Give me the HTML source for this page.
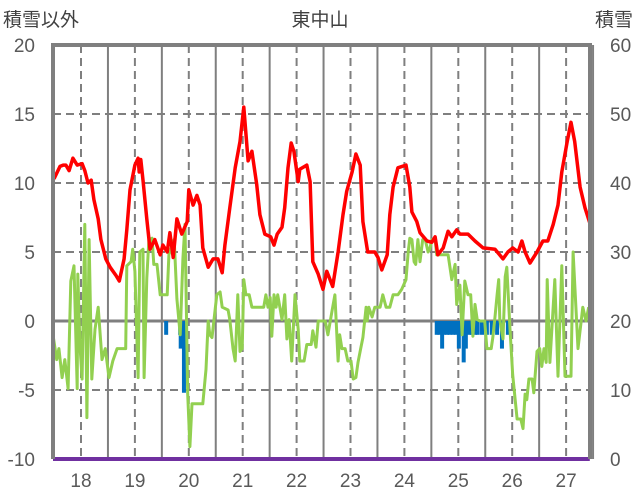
<!DOCTYPE html>
<html><head><meta charset="utf-8">
<style>
html,body{margin:0;padding:0;background:#fff;}
svg{display:block;font-family:"Liberation Sans","Noto Sans CJK JP",sans-serif;}
</style></head>
<body>
<svg id="chart" width="636" height="501" viewBox="0 0 636 501" xmlns="http://www.w3.org/2000/svg">
<text x="3" y="26" font-size="19" fill="#404040">積雪以外</text>
<text x="320" y="26" font-size="19" fill="#404040" text-anchor="middle">東中山</text>
<text x="633" y="26" font-size="19" fill="#404040" text-anchor="end">積雪</text>
<g id="grid"></g>
<g id="series"></g>
<g id="axes"></g>
</svg>
<script>
const redT=[17.50,17.61,17.67,17.72,17.78,17.85,17.93,18.02,18.07,18.13,18.19,18.24,18.32,18.37,18.46,18.54,18.65,18.71,18.80,18.85,18.91,19.00,19.06,19.08,19.11,19.15,19.22,19.28,19.37,19.47,19.52,19.60,19.65,19.71,19.78,19.87,19.97,20.00,20.08,20.15,20.21,20.26,20.36,20.45,20.54,20.62,20.67,20.76,20.86,20.95,21.02,21.10,21.17,21.26,21.32,21.41,21.52,21.58,21.64,21.73,21.78,21.84,21.90,21.95,22.03,22.06,22.19,22.25,22.30,22.40,22.49,22.56,22.67,22.77,22.86,22.93,23.03,23.10,23.18,23.23,23.32,23.45,23.51,23.58,23.68,23.73,23.79,23.88,24.03,24.10,24.14,24.23,24.29,24.42,24.51,24.57,24.62,24.72,24.81,24.88,24.97,25.03,25.18,25.31,25.46,25.68,25.83,25.92,26.01,26.11,26.18,26.24,26.33,26.46,26.57,26.66,26.76,26.85,26.92,27.02,27.09,27.16,27.26,27.35,27.44];
const redV=[10.3,11.2,11.3,11.3,10.9,11.8,11.3,11.4,10.9,10.0,10.2,8.8,7.4,5.9,4.5,3.9,3.3,2.9,4.5,6.6,9.5,11.3,11.8,10.8,11.7,10.2,7.4,5.2,5.9,4.8,5.5,5.0,6.4,4.6,7.4,6.3,7.2,9.5,8.4,9.1,8.4,5.3,3.9,4.5,4.5,3.5,5.5,8.2,11.1,13.0,15.5,11.6,12.3,9.9,7.7,6.3,6.1,5.5,6.3,6.8,8.2,11.1,12.9,12.3,10.1,11.0,11.3,10.1,4.3,3.4,2.3,3.6,2.5,5.0,7.7,9.4,10.8,12.1,11.3,7.2,5.0,5.0,4.6,3.7,4.8,7.7,9.7,11.1,11.3,9.7,7.9,7.2,6.4,5.8,5.7,6.1,4.8,5.3,6.5,6.1,6.6,6.3,6.3,5.8,5.3,5.2,4.5,5.0,5.3,5.0,5.8,5.0,4.2,5.0,5.8,5.8,7.0,8.4,10.8,13.0,14.4,13.0,9.7,8.2,7.1];
const greenT=[17.48,17.55,17.59,17.65,17.70,17.76,17.81,17.87,17.93,17.94,17.98,18.02,18.07,18.11,18.15,18.20,18.26,18.32,18.39,18.45,18.52,18.59,18.67,18.83,18.85,18.93,18.96,19.00,19.06,19.09,19.15,19.17,19.22,19.26,19.32,19.35,19.41,19.47,19.60,19.63,19.73,19.78,19.84,19.89,19.93,19.98,20.02,20.06,20.26,20.32,20.36,20.39,20.43,20.52,20.58,20.62,20.73,20.76,20.82,20.86,20.91,20.95,20.99,21.02,21.06,21.12,21.17,21.39,21.43,21.47,21.51,21.54,21.58,21.62,21.65,21.73,21.78,21.82,21.86,21.91,21.97,22.03,22.06,22.14,22.19,22.27,22.30,22.36,22.40,22.53,22.58,22.66,22.71,22.77,22.80,22.84,22.90,22.95,23.01,23.05,23.10,23.14,23.19,23.23,23.29,23.31,23.34,23.40,23.45,23.55,23.60,23.66,23.73,23.79,23.88,23.95,24.03,24.07,24.10,24.14,24.18,24.21,24.25,24.29,24.34,24.38,24.44,24.47,24.51,24.57,24.60,24.81,24.88,24.94,24.97,25.03,25.07,25.12,25.18,25.23,25.27,25.31,25.35,25.40,25.49,25.53,25.61,25.64,25.68,25.72,25.75,25.77,25.83,25.87,25.90,25.96,26.01,26.09,26.16,26.20,26.24,26.27,26.31,26.37,26.40,26.46,26.51,26.55,26.59,26.63,26.65,26.70,26.79,26.85,26.92,26.98,27.09,27.13,27.22,27.31,27.37,27.42];
const greenV=[-1.0,-2.8,-2.0,-4.1,-2.8,-4.9,2.9,4.0,-4.9,3.4,-1.7,-4.2,7.0,-7.0,5.9,-4.2,-0.6,1.0,-2.8,-2.0,-4.1,-2.9,-2.0,-2.0,4.0,4.3,5.2,3.6,-4.1,5.0,5.2,-4.1,3.1,5.9,6.0,4.1,4.1,1.9,1.9,4.8,5.9,1.6,-1.0,4.5,7.0,-5.3,-9.1,-6.0,-6.0,-3.5,0.0,-1.0,-1.2,1.9,2.1,1.0,0.8,0.1,-2.0,-2.9,1.9,-2.2,-2.0,3.0,1.9,1.9,1.0,1.0,1.9,1.0,1.7,-1.1,1.9,1.0,1.9,0.1,1.9,-1.3,0.1,-2.9,1.9,-0.6,-2.9,-2.9,-1.7,-1.7,-0.7,-1.9,0.0,0.0,-1.0,0.8,1.9,-2.9,-1.0,-2.0,-2.0,-2.9,-2.9,-4.2,-4.1,-3.0,-2.0,-1.2,1.0,0.0,1.0,0.3,1.0,1.0,1.9,1.0,1.0,1.9,1.9,2.3,3.0,5.0,6.0,5.9,4.3,4.1,5.9,4.3,5.9,6.0,5.0,5.2,5.9,5.9,4.8,4.8,3.0,4.1,1.2,2.6,-1.0,2.9,1.9,1.9,-1.1,1.2,0.1,0.0,0.0,-2.0,-2.0,-1.2,0.3,1.9,3.0,0.1,-1.3,3.2,3.9,-0.6,-3.9,-7.1,-7.1,-7.8,-5.3,-5.7,-4.2,-4.2,-5.2,-2.2,-2.0,-3.3,-2.0,-3.0,3.0,-3.0,3.0,-4.0,4.0,-4.0,-4.0,5.0,-2.0,1.0,0.0,1.0];
const blueT=[19.58,19.84,19.85,19.91,24.60,24.65,24.70,24.73,24.79,24.84,24.90,24.96,25.01,25.07,25.10,25.14,25.20,25.25,25.31,25.36,25.44,25.53,25.62,25.72,25.81,25.92];
const blueV=[-1,-1,-2,-5.2,-1,-1,-2,-1,-1,-1,-1,-1,-2,-1,-3,-2,-1,-1,-1,-1,-1,-1,-1,-1,-2,-1];
const snowT=[17.48,27.44];
const snowV=[0,0];
const xTicks=[18,19,20,21,22,23,24,25,26,27];
const leftTicks=[20,15,10,5,0,-5,-10];
const rightTicks=[60,50,40,30,20,10,0];

const L=53,R=590,T=45,B=459;
const X=t=>81+(t-18)*53.9;
const Y=v=>T+(20-v)*(B-T)/30;
const YR=v=>B-v*(B-T)/60;
const NS='http://www.w3.org/2000/svg';
function mk(tag,parent,attrs){const e=document.createElementNS(NS,tag);for(const k in attrs)e.setAttribute(k,attrs[k]);parent.appendChild(e);return e;}
const grid=document.getElementById('grid'),ser=document.getElementById('series'),axes=document.getElementById('axes');
mk('rect',grid,{x:L,y:T,width:R-L,height:B-T,fill:'#fff'});
leftTicks.forEach(v=>{
  if(v===20||v===-10||v===0)return;
  const l=mk('line',grid,{x1:L,x2:R,y1:Y(v),y2:Y(v),stroke:'#7f7f7f','stroke-width':2,'stroke-dasharray':'8,5'});
  
  
});
xTicks.forEach(t=>{
  const d=mk('line',grid,{x1:X(t),x2:X(t),y1:T,y2:B,stroke:'#7f7f7f','stroke-width':2,'stroke-dasharray':'8,5'});
  
  
  const s=mk('line',grid,{x1:X(t+0.5),x2:X(t+0.5),y1:T,y2:B,stroke:'#7f7f7f','stroke-width':2});
  
  
});
const z=mk('line',grid,{x1:L,x2:R,y1:Y(0),y2:Y(0),stroke:'#7f7f7f','stroke-width':3});


blueT.forEach((t,i)=>{
  const r=mk('rect',ser,{x:X(t)-2,y:Y(0),width:4,height:Y(blueV[i])-Y(0),fill:'#0070c0'});
  
  
});
function pts(ts,vs,f){return ts.map((t,i)=>X(t).toFixed(1)+','+f(vs[i]).toFixed(1)).join(' ');}
const g=mk('polyline',ser,{points:pts(greenT,greenV,Y),fill:'none',stroke:'#92d050','stroke-width':3,'stroke-linejoin':'round'});


const r=mk('polyline',ser,{points:pts(redT,redV,Y),fill:'none',stroke:'#ff0000','stroke-width':3.5,'stroke-linejoin':'round'});


const p=mk('polyline',ser,{points:pts(snowT,snowV,YR),fill:'none',stroke:'#7030a0','stroke-width':4});


const fr=mk('path',axes,{d:`M${L},${B} L${L},${T} L${R},${T} L${R},${B}`,fill:'none',stroke:'#7f7f7f','stroke-width':4});


leftTicks.forEach(v=>{
  const t=mk('text',axes,{x:35,y:Y(v)+7,'font-size':19,fill:'#595959','text-anchor':'end'});
  t.textContent=v;
  
  
});
rightTicks.forEach(v=>{
  const t=mk('text',axes,{x:610,y:YR(v)+7,'font-size':19,fill:'#595959'});
  t.textContent=v;
  
  
});
xTicks.forEach(v=>{
  const t=mk('text',axes,{x:X(v),y:487,'font-size':19,fill:'#595959','text-anchor':'middle'});
  t.textContent=v;
  
  
});
</script>
</body></html>
